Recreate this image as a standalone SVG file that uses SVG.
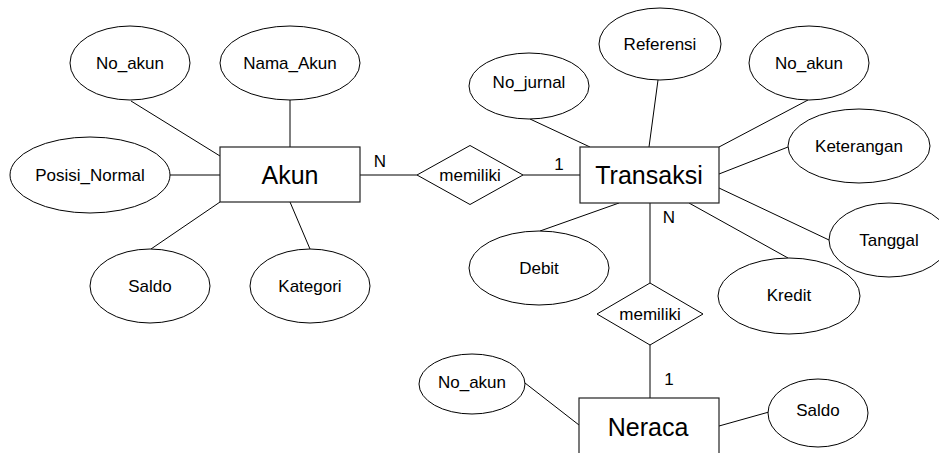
<svg xmlns="http://www.w3.org/2000/svg" width="939" height="453" viewBox="0 0 939 453">
<style>
.e{fill:#fff;stroke:#000;stroke-width:1}
.r{fill:#fff;stroke:#222;stroke-width:1.2}
.d{fill:#fff;stroke:#000;stroke-width:1}
.c line{stroke:#000;stroke-width:1}
text{font-family:"Liberation Sans",Arial,sans-serif;fill:#000;text-anchor:middle}
.t{font-size:17px}
.big{font-size:25px}
</style>
<rect width="939" height="453" fill="#fff"/>
<g id="connectors" class="c">
<line x1="131" y1="101" x2="220" y2="156"/>
<line x1="290" y1="100" x2="290" y2="147"/>
<line x1="170" y1="175" x2="220" y2="175"/>
<line x1="220" y1="202" x2="151" y2="249"/>
<line x1="290" y1="202" x2="310" y2="249"/>
<line x1="360" y1="175" x2="417" y2="175"/>
<line x1="523" y1="175" x2="580" y2="175"/>
<line x1="530" y1="119" x2="590" y2="147"/>
<line x1="658" y1="80" x2="649" y2="147"/>
<line x1="808" y1="100" x2="719" y2="147"/>
<line x1="788" y1="147" x2="719" y2="174"/>
<line x1="829" y1="240" x2="719" y2="188"/>
<line x1="788" y1="258" x2="689" y2="203"/>
<line x1="540" y1="231" x2="619" y2="203"/>
<line x1="650" y1="203" x2="650" y2="283"/>
<line x1="650" y1="345" x2="650" y2="398"/>
<line x1="525" y1="383" x2="579" y2="425"/>
<line x1="719" y1="426" x2="769" y2="412"/>
<text class="t" x="380" y="167">N</text>
<text class="t" x="559" y="170">1</text>
<text class="t" x="669" y="223">N</text>
<text class="t" x="669" y="385">1</text>
</g>
<g id="akun"><rect class="r" x="220" y="147" width="140" height="55"/><text class="big" x="290" y="184">Akun</text></g>
<g id="transaksi"><rect class="r" x="580" y="147" width="139" height="56"/><text class="big" x="649" y="184">Transaksi</text></g>
<g id="neraca"><rect class="r" x="579" y="398" width="140" height="60"/><text class="big" x="648" y="436">Neraca</text></g>
<g id="rel1"><polygon class="d" points="417,175 470,145.5 523,175 470,204.5"/><text class="t" x="470" y="181">memiliki</text></g>
<g id="rel2"><polygon class="d" points="597,314 650,283 703,314 650,345"/><text class="t" x="650" y="320">memiliki</text></g>
<g id="akun_no_akun"><ellipse class="e" cx="130" cy="63" rx="60" ry="37"/><text class="t" x="130" y="69">No_akun</text></g>
<g id="akun_nama"><ellipse class="e" cx="290" cy="63" rx="70" ry="37"/><text class="t" x="290" y="69">Nama_Akun</text></g>
<g id="akun_posisi"><ellipse class="e" cx="90" cy="175" rx="80" ry="38"/><text class="t" x="90" y="181">Posisi_Normal</text></g>
<g id="akun_saldo"><ellipse class="e" cx="150" cy="286" rx="60" ry="37"/><text class="t" x="150" y="292">Saldo</text></g>
<g id="akun_kategori"><ellipse class="e" cx="310" cy="286" rx="60" ry="37"/><text class="t" x="310" y="292">Kategori</text></g>
<g id="tr_no_jurnal"><ellipse class="e" cx="529" cy="86" rx="60" ry="33"/><text class="t" x="529" y="88">No_jurnal</text></g>
<g id="tr_referensi"><ellipse class="e" cx="660" cy="44" rx="61" ry="36"/><text class="t" x="660" y="50">Referensi</text></g>
<g id="tr_no_akun"><ellipse class="e" cx="809" cy="63" rx="60" ry="37"/><text class="t" x="809" y="69">No_akun</text></g>
<g id="tr_keterangan"><ellipse class="e" cx="859" cy="146" rx="71" ry="37"/><text class="t" x="859" y="152">Keterangan</text></g>
<g id="tr_tanggal"><ellipse class="e" cx="889" cy="240" rx="60" ry="37"/><text class="t" x="889" y="246">Tanggal</text></g>
<g id="tr_kredit"><ellipse class="e" cx="789" cy="296" rx="71" ry="38"/><text class="t" x="789" y="301">Kredit</text></g>
<g id="tr_debit"><ellipse class="e" cx="539" cy="268" rx="70" ry="37"/><text class="t" x="539" y="274">Debit</text></g>
<g id="ner_no_akun"><ellipse class="e" cx="472" cy="384" rx="53" ry="30"/><text class="t" x="472" y="388">No_akun</text></g>
<g id="ner_saldo"><ellipse class="e" cx="818" cy="413" rx="50" ry="34"/><text class="t" x="818" y="416">Saldo</text></g>
</svg>
